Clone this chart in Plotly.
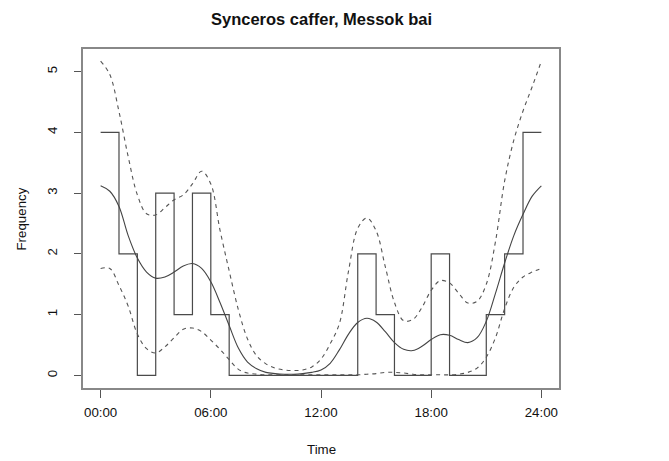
import plotly.graph_objects as go

# ---- data ----
hours = list(range(24))
counts = [4, 2, 0, 3, 1, 3, 1, 0, 0, 0, 0, 0, 0, 0, 2, 1, 0, 0, 2, 0, 0, 1, 2, 4]

curve_hours = [0, 0.5, 1, 1.5, 2, 2.5, 3, 3.5, 4, 4.5, 5, 5.5, 6, 6.5, 7, 7.5, 8, 8.5,
               9, 9.5, 10, 10.5, 11, 11.5, 12, 12.5, 13, 13.5, 14, 14.5, 15, 15.5, 16,
               16.5, 17, 17.5, 18, 18.5, 19, 19.5, 20, 20.5, 21, 21.5, 22, 22.5, 23,
               23.5, 24]
mean_curve = [3.12, 3.03, 2.78, 2.30, 1.93, 1.70, 1.60, 1.62, 1.70, 1.80, 1.84, 1.76,
              1.54, 1.20, 0.82, 0.45, 0.22, 0.11, 0.05, 0.03, 0.02, 0.02, 0.03, 0.05,
              0.09, 0.20, 0.42, 0.68, 0.87, 0.94, 0.88, 0.72, 0.54, 0.43, 0.41, 0.48,
              0.59, 0.67, 0.66, 0.59, 0.54, 0.62, 0.89, 1.35, 1.85, 2.30, 2.65, 2.95,
              3.12]
upper_curve = [5.17, 4.95, 4.34, 3.60, 2.97, 2.66, 2.64, 2.76, 2.89, 2.97, 3.15, 3.36,
               3.15, 2.39, 1.72, 1.08, 0.60, 0.32, 0.19, 0.12, 0.09, 0.08, 0.09, 0.14,
               0.27, 0.52, 0.85, 1.72, 2.42, 2.59, 2.38, 1.79, 1.20, 0.90, 0.92, 1.12,
               1.40, 1.56, 1.52, 1.35, 1.19, 1.22, 1.50, 2.20, 3.20, 3.87, 4.35, 4.75,
               5.17]
lower_curve = [1.76, 1.76, 1.48, 1.14, 0.68, 0.44, 0.37, 0.47, 0.62, 0.76, 0.78, 0.72,
               0.58, 0.43, 0.26, 0.10, 0.04, 0.02, 0.01, 0.01, 0.01, 0.01, 0.01, 0.01,
               0.01, 0.01, 0.01, 0.01, 0.01, 0.02, 0.03, 0.05, 0.05, 0.04, 0.02, 0.01,
               0.01, 0.01, 0.01, 0.02, 0.05, 0.12, 0.30, 0.62, 1.10, 1.45, 1.62, 1.70,
               1.76]

tick_vals = [0, 6, 12, 18, 24]
tick_text = ["00:00", "06:00", "12:00", "18:00", "24:00"]
y_ticks = [0, 1, 2, 3, 4, 5]

title_text = "Synceros caffer, Messok bai"
x_title = "Time"
y_title = "Frequency"

# ---- figure ----
step_x = hours + [24]
step_y = counts + [counts[-1]]

fig = go.Figure()
fig.add_trace(go.Scatter(x=step_x, y=step_y, mode="lines",
                         line=dict(color="#4a4a4a", width=1.2, shape="hv"),
                         hoverinfo="skip", showlegend=False))
fig.add_trace(go.Scatter(x=curve_hours, y=upper_curve, mode="lines",
                         line=dict(color="#555555", width=1.1, dash="4px,4px",
                                   shape="spline", smoothing=1),
                         showlegend=False))
fig.add_trace(go.Scatter(x=curve_hours, y=lower_curve, mode="lines",
                         line=dict(color="#555555", width=1.1, dash="4px,4px",
                                   shape="spline", smoothing=1),
                         showlegend=False))
fig.add_trace(go.Scatter(x=curve_hours, y=mean_curve, mode="lines",
                         line=dict(color="#444444", width=1.1,
                                   shape="spline", smoothing=1),
                         showlegend=False))

font_family = "Liberation Sans Narrow, Arial Narrow, Liberation Sans, Arial, sans-serif"
W, H = 669, 461
L, R, T, B = 75, 118, 41, 81
plot_h = H - T - B
plot_w = W - L - R

fig.update_layout(
    width=W, height=H,
    margin=dict(l=L, r=R, t=T, b=B),
    paper_bgcolor="white", plot_bgcolor="white",
    font=dict(family=font_family, size=13.3, color="#111111"),
    showlegend=False,
    xaxis=dict(range=[-0.96, 24.96], tickvals=tick_vals, ticktext=tick_text,
               ticks="outside", ticklen=8, tickwidth=1, tickcolor="#555555",
               showline=True, mirror=True, linecolor="#888888", linewidth=1.5,
               showgrid=False, zeroline=False, ticklabelstandoff=3),
    yaxis=dict(range=[-0.207, 5.37], tickvals=y_ticks,
               ticks="outside", ticklen=7, tickwidth=1, tickcolor="#555555",
               tickangle=-90,
               showline=True, mirror=True, linecolor="#888888", linewidth=1.5,
               showgrid=False, zeroline=False, ticklabelstandoff=12),
    annotations=[
        dict(text="<b>" + title_text + "</b>", xref="paper", yref="paper",
             x=0.5, y=1 + (T - 11) / plot_h, xanchor="center", yanchor="middle",
             showarrow=False, font=dict(size=16.5, color="#111111")),
        dict(text=x_title, xref="paper", yref="paper",
             x=0.5, y=-(441 - (H - B)) / plot_h, xanchor="center", yanchor="middle",
             showarrow=False, font=dict(size=13.3, color="#111111")),
        dict(text=y_title, xref="paper", yref="paper",
             x=-(L - 13) / plot_w, y=0.5, xanchor="center", yanchor="middle",
             textangle=-90, showarrow=False, font=dict(size=13.3, color="#111111")),
    ],
)

fig.write_html("out.html")
